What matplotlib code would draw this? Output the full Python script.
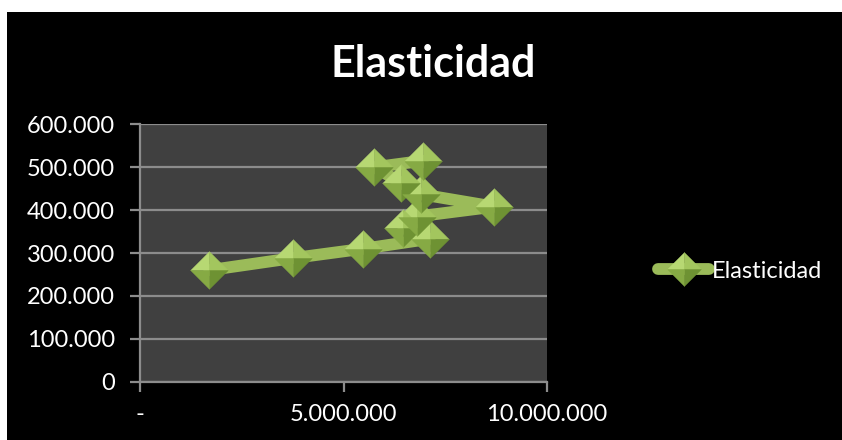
import matplotlib
matplotlib.use("Agg")
import matplotlib.pyplot as plt
from matplotlib.ticker import FixedLocator, FuncFormatter
from matplotlib.path import Path

# Data series (income vs. demand)
x_values = [1.70e6, 3.75e6, 5.49e6, 7.12e6, 6.47e6, 6.80e6, 8.71e6, 6.90e6, 6.41e6, 5.76e6, 6.95e6]
y_values = [260e3, 288e3, 310e3, 333e3, 358e3, 385e3, 408e3, 437e3, 464e3, 500e3, 515e3]
series_name = "Elasticidad"
title_text = "Elasticidad"
x_ticks = [0, 5e6, 10e6]
y_ticks = [0, 100e3, 200e3, 300e3, 400e3, 500e3, 600e3]

W, H, DPI = 842, 440, 100
fig = plt.figure(figsize=(W / DPI, H / DPI), dpi=DPI, facecolor="white")

# black chart area with a thin white margin on top/left
bg = fig.add_axes([7 / W, 0, 1 - 7 / W, 1 - 12 / H])
bg.set_facecolor("black")
bg.set_xticks([]); bg.set_yticks([])
for s in bg.spines.values():
    s.set_visible(False)

left, right, top, bottom = 140, 547, 124.3, 381.7
ax = fig.add_axes([left / W, 1 - bottom / H, (right - left) / W, (bottom - top) / H])
ax.set_facecolor("#404040")
ax.set_xlim(0, 10e6)
ax.set_ylim(0, 600e3)

grid_col = "#8c8c8c"
ax.yaxis.set_major_locator(FixedLocator(y_ticks))
ax.xaxis.set_major_locator(FixedLocator(x_ticks))
ax.grid(axis="y", color=grid_col, linewidth=1.6)
ax.set_axisbelow(True)
for name, s in ax.spines.items():
    if name in ("left", "bottom"):
        s.set_color(grid_col)
        s.set_linewidth(1.6)
    else:
        s.set_visible(False)


def thousands(v, pos=None):
    if v == 0:
        return "0"
    return f"{int(round(v)):,}".replace(",", ".")


def x_fmt(v, pos=None):
    if v == 0:
        return "-"
    return f"{int(round(v)):,}".replace(",", ".")


ax.yaxis.set_major_formatter(FuncFormatter(thousands))
ax.xaxis.set_major_formatter(FuncFormatter(x_fmt))
font = ["Lato", "DejaVu Sans"]
ax.tick_params(axis="both", colors=grid_col, width=1.6, length=7, direction="out",
               labelcolor="white", labelsize=17)
ax.tick_params(axis="x", pad=9)
ax.tick_params(axis="y", pad=11)
for lbl in ax.get_xticklabels() + ax.get_yticklabels():
    lbl.set_fontfamily(font)

line_col = "#9bbb59"
line, = ax.plot(x_values, y_values, color=line_col, linewidth=8.5,
                solid_capstyle="round", solid_joinstyle="round",
                label=series_name, zorder=3)

# pyramid-shaded diamond markers: four triangular facets
facets = [
    ([(0, 0), (-1, 0), (0, 1), (0, 0)], "#b7d873"),   # upper left
    ([(0, 0), (0, 1), (1, 0), (0, 0)], "#a3c65e"),    # upper right
    ([(0, 0), (1, 0), (0, -1), (0, 0)], "#6e9233"),   # lower right
    ([(0, 0), (0, -1), (-1, 0), (0, 0)], "#86aa44"),  # lower left
]
facet_handles = []
for verts, col in facets:
    # include the full diamond extent so every facet scales the same way
    path = Path(verts + [(-1, 0), (1, 0), (0, 1), (0, -1)],
                [Path.MOVETO, Path.LINETO, Path.LINETO, Path.CLOSEPOLY,
                 Path.MOVETO, Path.MOVETO, Path.MOVETO, Path.MOVETO])
    h, = ax.plot(x_values, y_values, linestyle="none", marker=path,
                 markersize=27, markerfacecolor=col, markeredgecolor=col,
                 markeredgewidth=0.3, zorder=4)
    facet_handles.append(h)

fig.text(433 / W, 1 - 64 / H, title_text, color="white", fontsize=31,
         fontweight="bold", ha="center", va="center", family=font)

leg = fig.legend(handles=[tuple([line] + facet_handles)], labels=[series_name],
                 loc="center left", bbox_to_anchor=(637 / W, 1 - 271 / H),
                 frameon=False, prop={"family": font, "size": 17},
                 handlelength=2.15, handletextpad=0.1, markerscale=0.9)
for t in leg.get_texts():
    t.set_color("white")

fig.savefig("out.png", dpi=DPI, facecolor="white")
